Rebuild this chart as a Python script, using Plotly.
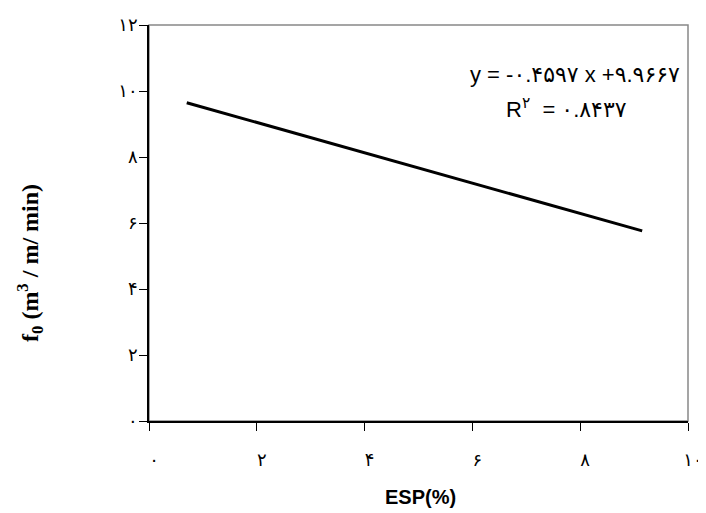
import plotly.graph_objects as go

# data
x_vals = [0.7, 9.15]
y_vals = [9.645, 5.76]
x_ticks = [0, 2, 4, 6, 8, 10]
x_ticktext = ["۰", "۲", "۴", "۶", "۸", "۱۰"]
y_ticks = [0, 2, 4, 6, 8, 10, 12]
y_ticktext = ["۰", "۲", "۴", "۶", "۸", "۱۰", "۱۲"]
eq_text = "y = -۰.۴۵۹۷ x +۹.۹۶۶۷"
r2_text = "R<sup>۲</sup>  = ۰.۸۴۳۷"
x_title = "<b>ESP(%)</b>"
y_title = "<b>f<sub>0</sub> (m<sup>3</sup> / m/ min)</b>"

fig = go.Figure()
fig.add_trace(go.Scatter(x=x_vals, y=y_vals, mode="lines",
                         line=dict(color="black", width=3), showlegend=False))

tickfont = dict(family="DejaVu Sans, Arial", size=18, color="black")
fig.update_xaxes(range=[0, 10], tickvals=x_ticks, ticktext=x_ticktext,
                 showline=True, linecolor="black", linewidth=1.5,
                 ticks="outside", ticklen=8, tickcolor="black", tickwidth=1,
                 showgrid=False, zeroline=False, tickfont=tickfont,
                 ticklabelshift=5, ticklabelstandoff=14, automargin=False,
                 ticklabeloverflow="allow")
fig.update_yaxes(range=[0, 12], tickvals=y_ticks, ticktext=y_ticktext,
                 showline=True, linecolor="black", linewidth=1.5,
                 ticks="outside", ticklen=8, tickcolor="black", tickwidth=1,
                 showgrid=False, zeroline=False, tickfont=tickfont,
                 ticklabelstandoff=-2, automargin=False,
                 ticklabeloverflow="allow")

fig.add_shape(type="rect", xref="paper", yref="paper", x0=0, y0=0, x1=1, y1=1,
              line=dict(color="#888888", width=1.5), layer="below")

fig.add_annotation(x=1, y=0.874, xref="paper", yref="paper", text=eq_text,
                   xanchor="right", yanchor="middle", xshift=-6, showarrow=False,
                   font=dict(family="Arial, Liberation Sans, DejaVu Sans", size=22, color="black"))
fig.add_annotation(x=0.7755, y=0.79, xref="paper", yref="paper", text=r2_text,
                   xanchor="center", yanchor="middle", showarrow=False,
                   font=dict(family="Arial, Liberation Sans, DejaVu Sans", size=22, color="black"))

# axis titles
fig.add_annotation(x=0.5, y=0, xref="paper", yref="paper", text=x_title,
                   xanchor="center", yanchor="middle", yshift=-76, xshift=2, showarrow=False,
                   font=dict(family="Arial, Liberation Sans", size=20, color="black"))
fig.add_annotation(x=0, y=0.5, xref="paper", yref="paper", text=y_title,
                   textangle=-90, xanchor="center", yanchor="middle",
                   xshift=-119, yshift=-40, showarrow=False,
                   font=dict(family="Liberation Serif, Times New Roman", size=24, color="black"))

# page body has an 8px margin, so the figure is sized to fit the 706x513 window
fig.update_layout(width=698, height=505, paper_bgcolor="white", plot_bgcolor="white",
                  margin=dict(l=141, r=18, t=17, b=92))
fig.write_html("out.html")
